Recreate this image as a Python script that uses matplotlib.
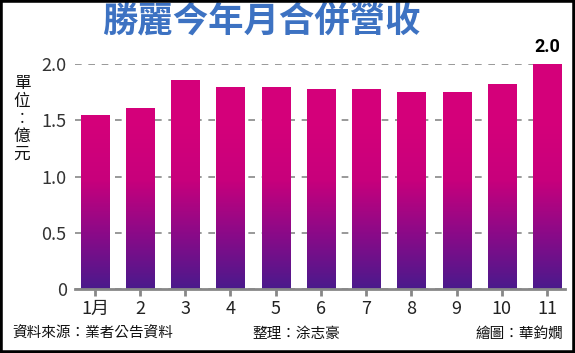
import numpy as np
import matplotlib
matplotlib.use("Agg")
import matplotlib.pyplot as plt
from matplotlib.colors import LinearSegmentedColormap
from matplotlib.patches import Rectangle

plt.rcParams['font.family'] = ['Noto Sans CJK TC', 'DejaVu Sans']

months = ['1月', '2', '3', '4', '5', '6', '7', '8', '9', '10', '11']
revenue = [1.55, 1.61, 1.86, 1.80, 1.80, 1.78, 1.78, 1.75, 1.75, 1.82, 2.0]
yticks = [0, 0.5, 1.0, 1.5, 2.0]
ytick_labels = ['0', '0.5', '1.0', '1.5', '2.0']
title = '勝麗今年月合併營收'
unit = '單\n位\n︰\n億\n元'
source = '資料來源：業者公告資料'
editor = '整理：涂志豪'
artist = '繪圖：華鈞嫺'
last_label = '2.0'

fig = plt.figure(figsize=(5.75, 3.53), dpi=100)
ax = fig.add_axes([75/575, 1-289/353, 490/575, 225/353])

x = np.arange(len(months))
bars = ax.bar(x, revenue, width=0.62, color='none', edgecolor='none', zorder=3)

cmap = LinearSegmentedColormap.from_list('g', ['#4a1a8c', '#8a0a88', '#c8007c', '#d4007a'])
grad = np.linspace(0, 1, 256).reshape(-1, 1)
for b in bars:
    bx, by = b.get_x(), b.get_y()
    w, h = b.get_width(), b.get_height()
    im = ax.imshow(grad, extent=[bx, bx + w, 0, 1.45], origin='lower', cmap=cmap,
                   aspect='auto', zorder=3)
    im2 = ax.imshow(np.ones((2, 2)), extent=[bx, bx + w, 1.45, 2.0], origin='lower',
                    cmap=LinearSegmentedColormap.from_list('m', ['#d4007a', '#d4007a']),
                    aspect='auto', zorder=3, vmin=0, vmax=1)
    im.set_clip_path(b)
    im2.set_clip_path(b)

ax.set_xlim(-0.44, 10.4)
ax.set_ylim(0, 2.0)
ax.set_yticks(yticks)
ax.set_yticklabels(ytick_labels)
ax.set_xticks(x)
ax.set_xticklabels(months)
ax.grid(axis='y', linestyle=(0, (4, 4)), color='#888888', linewidth=1.2, zorder=1)
for s in ['top', 'right', 'left']:
    ax.spines[s].set_visible(False)
ax.spines['bottom'].set_color('#888888')
ax.spines['bottom'].set_linewidth(2)
ax.spines['bottom'].set_zorder(4)
ax.tick_params(axis='x', direction='out', length=5, width=2, color='#888888',
               labelsize=13, labelcolor='#222222', pad=3)
ax.tick_params(axis='y', length=0, labelsize=13, labelcolor='#333333', pad=6)

ax.text(x[-1], revenue[-1] + 0.07, last_label, ha='center', va='bottom',
        fontsize=13, fontweight='bold', color='black', family=['Roboto', 'DejaVu Sans'])

fig.text(261/575, 1-32/353, title, ha='center', va='baseline', fontsize=25.5,
         fontweight='heavy', color='#3d72c2')
fig.text(22/575, 1-119/353, unit, ha='center', va='center', fontsize=12,
         linespacing=1.05, color='#111111')
fig.text(12/575, 1-334/353, source, ha='left', va='center', fontsize=10.5, color='#111111')
fig.text(296/575, 1-334/353, editor, ha='center', va='center', fontsize=10.5, color='#111111')
fig.text(563/575, 1-334/353, artist, ha='right', va='center', fontsize=10.5, color='#111111')

fig.patches.append(Rectangle((0, 0), 1, 1, transform=fig.transFigure, fill=False,
                             edgecolor='black', linewidth=4, zorder=10))

fig.savefig('out.png', dpi=100)
